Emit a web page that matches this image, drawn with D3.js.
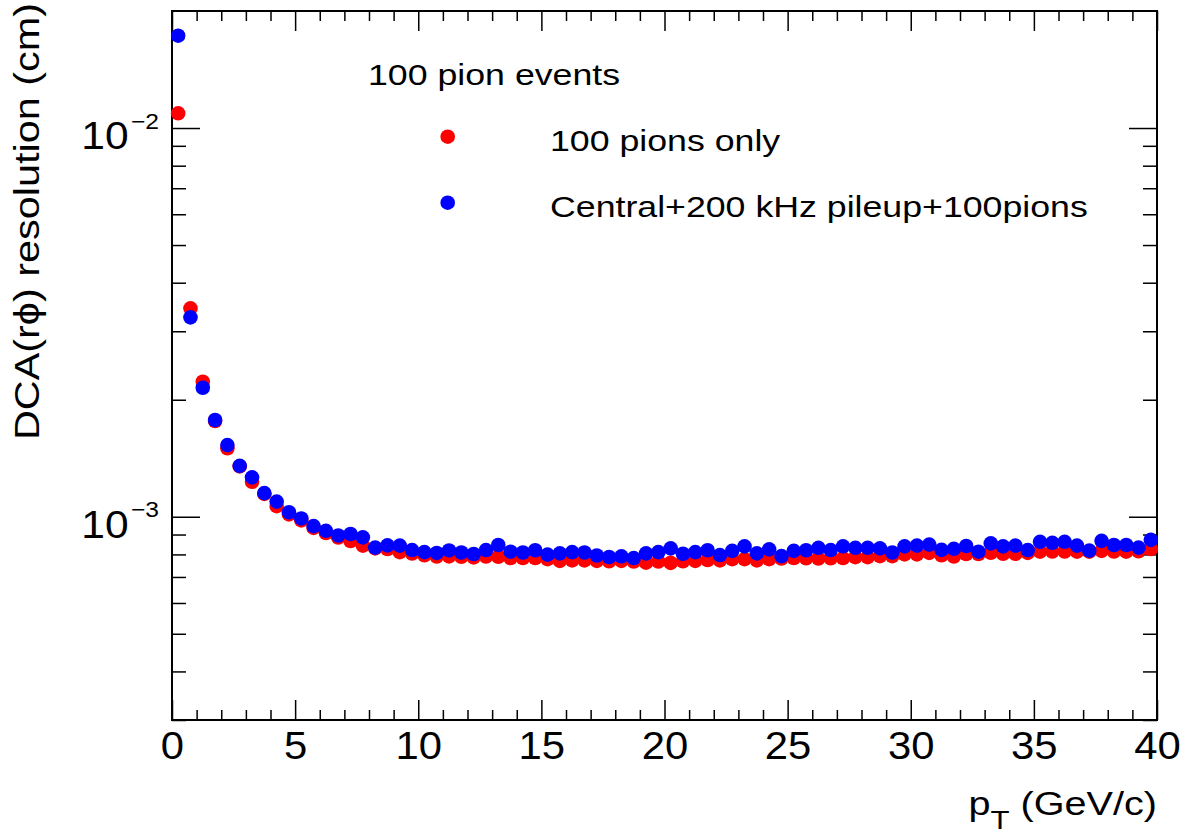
<!DOCTYPE html>
<html>
<head>
<meta charset="utf-8">
<script src="https://cdn.jsdelivr.net/npm/d3@7"></script>
<style>
    html, body { margin: 0; padding: 0; background: #fff; }
    svg { display: block; font-family: "Liberation Sans", Arial, Helvetica, sans-serif; }
</style>
</head>
<body>
<div id="chart"></div>
<script>
// pT bins of 0.5 GeV/c between 0 and 40, markers at bin centres
const ptRange = [0, 40];
const binWidth = 0.5;
const ptCenters = d3.range(ptRange[0] + binWidth / 2, ptRange[1], binWidth);

// DCA(r phi) resolution, in units of 1e-3 cm
const pionsOnly = [
    10.91, 3.437, 2.225, 1.763, 1.500, 1.348, 1.230, 1.145, 1.065, 1.014,
    0.979, 0.936, 0.908, 0.884, 0.866, 0.843, 0.829, 0.826, 0.811, 0.804,
    0.796, 0.790, 0.791, 0.789, 0.786, 0.790, 0.789, 0.783, 0.783, 0.783,
    0.778, 0.770, 0.772, 0.772, 0.770, 0.768, 0.770, 0.767, 0.762, 0.767,
    0.761, 0.768, 0.770, 0.774, 0.772, 0.778, 0.778, 0.772, 0.778, 0.781,
    0.783, 0.782, 0.781, 0.782, 0.783, 0.787, 0.787, 0.792, 0.792, 0.800,
    0.800, 0.807, 0.796, 0.790, 0.802, 0.802, 0.808, 0.803, 0.803, 0.807,
    0.813, 0.814, 0.814, 0.813, 0.813, 0.817, 0.814, 0.813, 0.815, 0.826
];

const withPileup = [
    17.28, 3.258, 2.147, 1.774, 1.529, 1.352, 1.263, 1.150, 1.094, 1.027,
    0.990, 0.946, 0.920, 0.895, 0.903, 0.885, 0.833, 0.844, 0.843, 0.821,
    0.811, 0.807, 0.819, 0.809, 0.802, 0.821, 0.846, 0.813, 0.809, 0.820,
    0.799, 0.805, 0.811, 0.809, 0.795, 0.788, 0.791, 0.783, 0.805, 0.811,
    0.829, 0.803, 0.811, 0.820, 0.797, 0.817, 0.839, 0.805, 0.824, 0.792,
    0.817, 0.820, 0.832, 0.821, 0.839, 0.832, 0.832, 0.829, 0.809, 0.839,
    0.843, 0.848, 0.822, 0.827, 0.841, 0.813, 0.854, 0.839, 0.843, 0.821,
    0.862, 0.857, 0.862, 0.843, 0.818, 0.867, 0.846, 0.846, 0.833, 0.872
];

const xMajorTicks = [0, 5, 10, 15, 20, 25, 30, 35, 40];
const xMinorTicks = [1, 2, 3, 4, 6, 7, 8, 9, 11, 12, 13, 14, 16, 17, 18, 19, 21, 22, 23, 24,
    26, 27, 28, 29, 31, 32, 33, 34, 36, 37, 38, 39];
const yMajorTicks = [1e-3, 1e-2];
const yTickExponents = ["\u22123", "\u22122"];
const yMinorTicks = [3e-4, 4e-4, 5e-4, 6e-4, 7e-4, 8e-4, 9e-4,
    2e-3, 3e-3, 4e-3, 5e-3, 6e-3, 7e-3, 8e-3, 9e-3];
const yDomain = [3e-4, 2e-2];

const legendTitle = "100 pion events";
const seriesNames = ["100 pions only", "Central+200 kHz pileup+100pions"];
const seriesColors = ["#ff0000", "#0000ff"];

const chart = {
    width: 1186,
    height: 836,
    margin: { top: 11, right: 29, bottom: 116, left: 172 },
    markerRadius: 7.3
};

const plot = {
    x0: chart.margin.left,
    x1: chart.width - chart.margin.right,
    y0: chart.margin.top,
    y1: chart.height - chart.margin.bottom
};

const svg = d3.select("#chart")
    .append("svg")
    .attr("width", chart.width)
    .attr("height", chart.height);

const x = d3.scaleLinear().domain(ptRange).range([plot.x0, plot.x1]);
const y = d3.scaleLog().domain(yDomain).range([plot.y1, plot.y0]);

// ROOT style: ticks inside the frame on all four sides
const styleTicks = g => {
    g.select(".domain").remove();
    g.selectAll("line").attr("stroke", "#000").attr("stroke-width", 1.5);
};

const addAxis = (axis, transform) => svg.append("g")
    .attr("transform", transform)
    .call(axis)
    .call(styleTicks);

addAxis(d3.axisBottom(x).tickValues(xMinorTicks).tickSize(-10).tickFormat(""), `translate(0,${plot.y1})`);
addAxis(d3.axisTop(x).tickValues(xMinorTicks).tickSize(-10).tickFormat(""), `translate(0,${plot.y0})`);
addAxis(d3.axisTop(x).tickValues(xMajorTicks).tickSize(-20).tickFormat(""), `translate(0,${plot.y0})`);
addAxis(d3.axisLeft(y).tickValues(yMinorTicks).tickSize(-14).tickFormat(""), `translate(${plot.x0},0)`);
addAxis(d3.axisRight(y).tickValues(yMinorTicks).tickSize(-14).tickFormat(""), `translate(${plot.x1},0)`);
addAxis(d3.axisRight(y).tickValues(yMajorTicks).tickSize(-28).tickFormat(""), `translate(${plot.x1},0)`);

// bottom axis with labels
const xAxis = addAxis(
    d3.axisBottom(x).tickValues(xMajorTicks).tickSize(-20).tickFormat(d3.format("d")),
    `translate(0,${plot.y1})`
);
xAxis.attr("font-size", null).attr("font-family", null);
xAxis.selectAll("text")
    .attr("y", 0)
    .attr("dy", null)
    .attr("fill", "#000")
    .style("font-size", "38px")
    .attr("transform", "translate(0,39) scale(1.1,1)");

// left axis with 10^n labels
const yAxis = addAxis(
    d3.axisLeft(y).tickValues(yMajorTicks).tickSize(-28).tickFormat(""),
    `translate(${plot.x0},0)`
);
yAxis.attr("font-size", null).attr("font-family", null);
yAxis.selectAll(".tick").each(function (d, i) {
    const label = d3.select(this).append("text")
        .attr("fill", "#000")
        .attr("text-anchor", "end")
        .attr("transform", "translate(-13,20.5) scale(1.12,1)");
    label.append("tspan").style("font-size", "38px").text("10");
    label.append("tspan")
        .style("font-size", "22px")
        .attr("dx", 2)
        .attr("dy", -20.5)
        .text(yTickExponents[i]);
});

// frame
svg.append("rect")
    .attr("x", plot.x0)
    .attr("y", plot.y0)
    .attr("width", plot.x1 - plot.x0)
    .attr("height", plot.y1 - plot.y0)
    .attr("fill", "none")
    .attr("stroke", "#000")
    .attr("stroke-width", 2);

// axis titles
const xTitle = svg.append("text")
    .attr("text-anchor", "end")
    .attr("fill", "#000")
    .attr("transform", `translate(${plot.x1},815) scale(1.2,1)`)
    .style("font-size", "33px");
xTitle.append("tspan").text("p");
xTitle.append("tspan").attr("dy", 14).style("font-size", "26px").text("T");
xTitle.append("tspan").attr("dy", -14).text(" (GeV/c)");

svg.append("text")
    .attr("text-anchor", "end")
    .attr("fill", "#000")
    .attr("transform", "translate(39,3) rotate(-90) scale(1.15,1)")
    .style("font-size", "36px")
    .text("DCA(r\u03d5) resolution (cm)");

// markers: red first, blue drawn on top
const series = [pionsOnly, withPileup];
series.forEach((values, s) => {
    svg.append("g")
        .attr("class", "series")
        .selectAll("circle")
        .data(values.map((v, i) => ({ pt: ptCenters[i], value: v * 1e-3 })))
        .join("circle")
        .attr("cx", d => x(d.pt))
        .attr("cy", d => y(d.value))
        .attr("r", chart.markerRadius)
        .attr("fill", seriesColors[s]);
});

// legend
const legend = svg.append("g").attr("class", "legend");

legend.append("text")
    .attr("fill", "#000")
    .attr("transform", "translate(368,85) scale(1.19,1)")
    .style("font-size", "30px")
    .text(legendTitle);

const legendRows = legend.selectAll("g.row")
    .data(seriesNames)
    .join("g")
    .attr("class", "row")
    .attr("transform", (d, i) => `translate(0,${136.7 + i * 66})`);

legendRows.append("circle")
    .attr("cx", 447.7)
    .attr("cy", 0)
    .attr("r", chart.markerRadius)
    .attr("fill", (d, i) => seriesColors[i]);

legendRows.append("text")
    .attr("fill", "#000")
    .attr("transform", "translate(550,14.3) scale(1.19,1)")
    .style("font-size", "30px")
    .text(d => d);
</script>
</body>
</html>
